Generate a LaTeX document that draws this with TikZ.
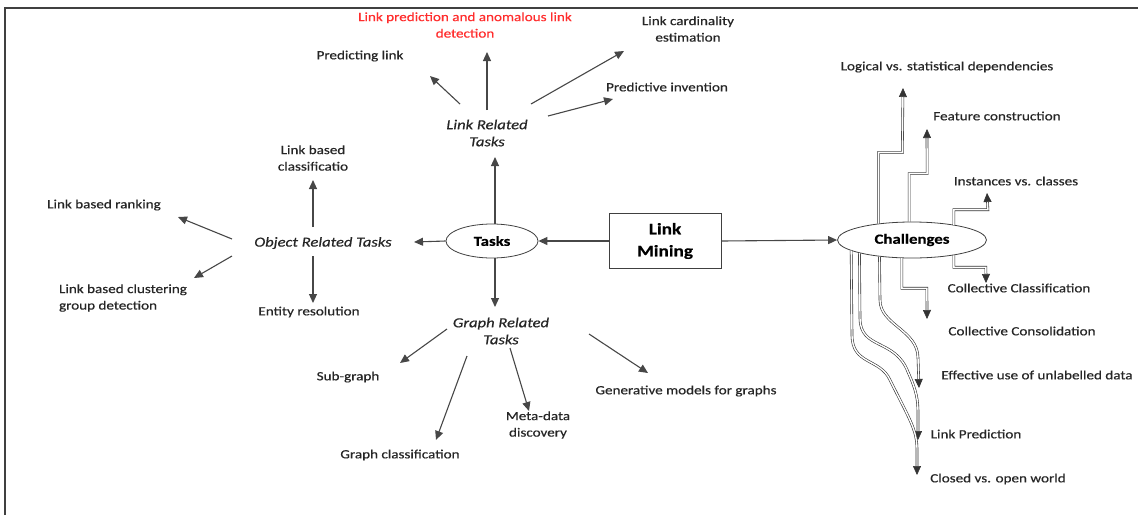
\documentclass[tikz,border=0pt]{standalone}
\usepackage{fontspec}
\setmainfont{Carlito}[FakeStretch=1.2, FakeBold=0.5]
\usetikzlibrary{arrows.meta,shapes.geometric}

\begin{document}
\begin{tikzpicture}[x=1pt,y=-1pt,
    lbl/.style={font=\fontsize{12.6}{16.5}\selectfont, align=center, inner sep=0pt, text=black!85},
    task/.style={lbl, font=\fontsize{13.8}{17}\selectfont\itshape},
    arr/.style={-{Triangle[length=9pt,width=8pt]}, line width=1.1pt, draw=black!72},
    chl/.style={-{Triangle[length=9pt,width=8pt]}, draw=black!80, line width=0.6pt, double=white, double distance=1.4pt},
]

% Define the colours
\definecolor{anomred}{RGB}{255,45,45}

\useasboundingbox (0,0) rectangle (1138,515);

% Frame (only top and left edges show)
\draw[line width=1.8pt, black!75] (5,515) -- (5,8) -- (1138,8);

% Centre of the map
\node[draw=black!75, line width=0.9pt, minimum width=112pt, minimum height=55pt, inner sep=0pt,
      align=center, font=\fontsize{16}{22}\selectfont\bfseries] (mining) at (665,241) {Link\\Mining};
\node[draw=black!75, line width=0.8pt, ellipse, minimum width=92pt, minimum height=34pt, inner sep=0pt,
      font=\fontsize{14}{16}\selectfont\bfseries] (tasks) at (492,241) {Tasks};
\node[draw=black!75, line width=0.8pt, ellipse, fill=white, minimum width=149pt, minimum height=36pt, inner sep=0pt,
      font=\fontsize{14}{16}\selectfont\bfseries] (chal) at (912,240) {Challenges};

% Task groups
\node[task] (linkrel) at (487,133) {Link Related\\Tasks};
\node[task] (objrel) at (323,243) {Object Related Tasks};
\node[task] (graphrel) at (501,331) {Graph Related\\Tasks};

% Link related tasks
\node[lbl, text=anomred] (anom) at (465,25) {Link prediction and anomalous link\\detection};
\node[lbl] (card) at (688,29) {Link cardinality\\estimation};
\node[lbl] (pred) at (360,56) {Predicting link};
\node[lbl] (invent) at (667,87) {Predictive invention};

% Object related tasks
\node[lbl] (lbclass) at (313,158) {Link based\\classificatio};
\node[lbl] (lbrank) at (104,205) {Link based ranking};
\node[lbl, align=left] (lbclust) at (123,298) {Link based clustering\\group detection};
\node[lbl] (entity) at (309,312) {Entity resolution};

% Graph related tasks
\node[lbl] (subg) at (348,377) {Sub-graph};
\node[lbl] (gclass) at (400,455) {Graph classification};
\node[lbl] (meta) at (538,425) {Meta-data\\discovery};
\node[lbl] (gener) at (686,391) {Generative models for graphs};

% Challenges
\node[lbl] (logic) at (947,67) {Logical vs. statistical dependencies};
\node[lbl] (feat) at (997,116) {Feature construction};
\node[lbl] (inst) at (1016,181) {Instances vs. classes};
\node[lbl] (colclass) at (1019,288) {Collective Classification};
\node[lbl] (colcons) at (1022,331) {Collective Consolidation};
\node[lbl] (effect) at (1037,375) {Effective use of unlabelled data};
\node[lbl] (linkpred) at (976,434) {Link Prediction};
\node[lbl] (closed) at (998,479) {Closed vs. open world};

% Main arrows
\draw[arr] (mining.west) -- (tasks.east);
\draw[arr] (mining.east) -- (chal.west);
\draw[arr] ([xshift=3]tasks.north) -- ([shift={(8,24)}]linkrel.center);
\draw[arr] (tasks.west) -- ([shift={(91,-1)}]objrel.center);
\draw[arr] ([xshift=3]tasks.south) -- ([shift={(-6,-24)}]graphrel.center);

% Link related arrows
\draw[arr] ([shift={(-27,-29)}]linkrel.center) -- ([shift={(70,20)}]pred.center);
\draw[arr] ([shift={(0,-23)}]linkrel.center) -- ([shift={(22,27)}]anom.center);
\draw[arr] ([shift={(44,-29)}]linkrel.center) -- ([shift={(-64,22)}]card.center);
\draw[arr] ([shift={(61,-17)}]linkrel.center) -- ([shift={(-54,12)}]invent.center);

% Object related arrows
\draw[arr] ([shift={(-10,-16)}]objrel.center) -- ([shift={(0,22)}]lbclass.center);
\draw[arr] ([shift={(-91,-4)}]objrel.center) -- ([shift={(74,12)}]lbrank.center);
\draw[arr] ([shift={(-91,13)}]objrel.center) -- ([shift={(71,-20)}]lbclust.center);
\draw[arr] ([shift={(-10,13)}]objrel.center) -- ([shift={(4,-9)}]entity.center);

% Graph related arrows
\draw[arr] ([shift={(-54,-2)}]graphrel.center) -- ([shift={(52,-14)}]subg.center);
\draw[arr] ([shift={(-34,25)}]graphrel.center) -- ([shift={(36,-15)}]gclass.center);
\draw[arr] ([shift={(9,17)}]graphrel.center) -- ([shift={(-9,-14)}]meta.center);
\draw[arr] ([shift={(88,3)}]graphrel.center) -- ([shift={(-38,-18)}]gener.center);

% Challenge connectors (elbows above, curves below)
\draw[chl] (chal.154) -- ++(0,-71) -- ++(24,0) -- ([shift={(-44,21)}]logic.center);
\draw[chl] (chal.99) -- ++(0,-48) -- ++(18,0) -- ([shift={(-70,13)}]feat.center);
\draw[chl] (chal.20) -- ++(0,-15) -- ++(34,0) -- ([shift={(-29,12)}]inst.center);
\draw[chl] (chal.340) -- ++(0,12) -- ++(32,0) -- ([shift={(-33,-5)}]colclass.center);
\draw[chl] (chal.241) -- ++(0,30) -- ++(25,0) -- ([shift={(-95,-12)}]colcons.center);
\draw[chl] (chal.207) -- (880,300) .. controls (880,325) and (918,330) .. (918,358)
    -- ([shift={(-118,13)}]effect.center);
\draw[chl] (chal.194) -- (860,318) .. controls (860,350) and (895,338) .. (908,372)
    .. controls (917,392) and (918,400) .. (918,415) -- ([shift={(-58,6)}]linkpred.center);
\draw[chl] (chal.190) -- (852,335) .. controls (852,365) and (880,358) .. (890,380)
    .. controls (910,420) and (917,430) .. (917,450) -- ([shift={(-81,-4)}]closed.center);

\end{tikzpicture}
\end{document}
